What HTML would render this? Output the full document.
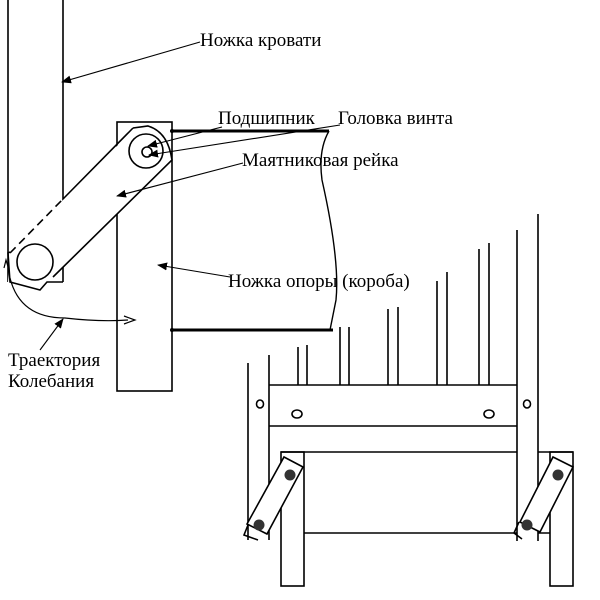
<!DOCTYPE html>
<html><head><meta charset="utf-8"><style>html,body{margin:0;padding:0;background:#fff}svg{display:block}</style></head>
<body>
<svg width="600" height="600" viewBox="0 0 600 600" xmlns="http://www.w3.org/2000/svg">
<defs><marker id="a" markerWidth="10" markerHeight="8" refX="9" refY="4" orient="auto" markerUnits="userSpaceOnUse"><path d="M0,0 L10,4 L0,8 Z" fill="#000"/></marker></defs>
<g fill="none" stroke="#000" stroke-width="1.6">
<path d="M8,0 V282 M63,0 V282"/>
<rect x="117" y="122" width="55" height="269" fill="#fff"/>
<path d="M135,128 L148,125 Q170,132 172,160 L53,277 L47,282 L40,290 L8,282 L10,253 L63,200 M63,200 L135,128" fill="#fff" stroke="none"/>
<path d="M133,128 L148,126 Q168,132 172,160 L53,277"/>
<path d="M63,199 L133,128"/>
<path d="M10,253 L63,199" stroke-dasharray="8,5"/>
<path d="M63,282 L47,282 L40,290 L10,282 L8,253 L10,252"/>
<circle cx="146" cy="151" r="17"/>
<circle cx="147" cy="152" r="5"/>
<circle cx="35" cy="262" r="18"/>
<path d="M4,268 L6,260 L9,270" stroke-width="1.2"/>
<path d="M10,278 Q20,318 65,318 Q100,322 128,320" stroke-width="1.2"/>
<path d="M124,316 L135,320 L124,324" stroke-width="1.2"/>
<path d="M172,131 H329" stroke-width="3"/>
<path d="M172,330 H333" stroke-width="3"/>
<path d="M329,131 Q318,150 322,180 Q340,260 336,300 L330,330" stroke-width="1.4"/>
<path d="M248,363 V540 M269,355 V540 M517,230 V541 M538,214 V541"/>
<path d="M269,385 H517 M269,426 H517"/>
<path d="M298,347 V385 M307,345 V385 M340,327 V385 M349,327 V385 M388,309 V385 M398,307 V385 M437,281 V385 M447,272 V385 M479,249 V385 M489,243 V385"/>
<ellipse cx="260" cy="404" rx="3.5" ry="4"/><ellipse cx="297" cy="414" rx="5" ry="4"/><ellipse cx="489" cy="414" rx="5" ry="4"/><ellipse cx="527" cy="404" rx="3.5" ry="4"/>
<path d="M281,452 H304 M304,452 H517 M538,452 H573"/>
<rect x="281" y="452" width="23" height="134"/>
<rect x="550" y="452" width="23" height="134"/>
<path d="M304,533 H517 M538,533 H550"/>
<g fill="#fff">
<path d="M284,457 L303,467 L267,534 L247,524 Z"/>
<path d="M553,457 L573,467 L540,532 L520,522 Z"/>
</g>
<path d="M248,525 L244,535 L258,540"/>
<path d="M519,522 L514,533 L522,539"/>
</g>
<g fill="#333"><circle cx="290" cy="475" r="5.5"/><circle cx="259" cy="525" r="5.5"/><circle cx="558" cy="475" r="5.5"/><circle cx="527" cy="525" r="5.5"/></g>
<circle cx="172" cy="131" r="2" fill="#000"/><circle cx="172" cy="330" r="2" fill="#000"/>
<g stroke="#000" stroke-width="1.1" fill="none" marker-end="url(#a)">
<line x1="200" y1="42" x2="62" y2="82"/>
<line x1="222" y1="127" x2="148" y2="146"/>
<line x1="340" y1="125" x2="149" y2="155"/>
<line x1="243" y1="163" x2="117" y2="196"/>
<line x1="230" y1="277" x2="158" y2="265"/>
<line x1="40" y1="350" x2="63" y2="319"/>
</g>
<g font-family="'Liberation Serif', serif" font-size="19" fill="#000">
<text x="200" y="46">Ножка кровати</text>
<text x="218" y="124">Подшипник</text>
<text x="338" y="124">Головка винта</text>
<text x="242" y="166">Маятниковая рейка</text>
<text x="228" y="287">Ножка опоры (короба)</text>
<text x="8" y="366">Траектория</text>
<text x="8" y="387">Колебания</text>
</g>
</svg>
</body></html>
